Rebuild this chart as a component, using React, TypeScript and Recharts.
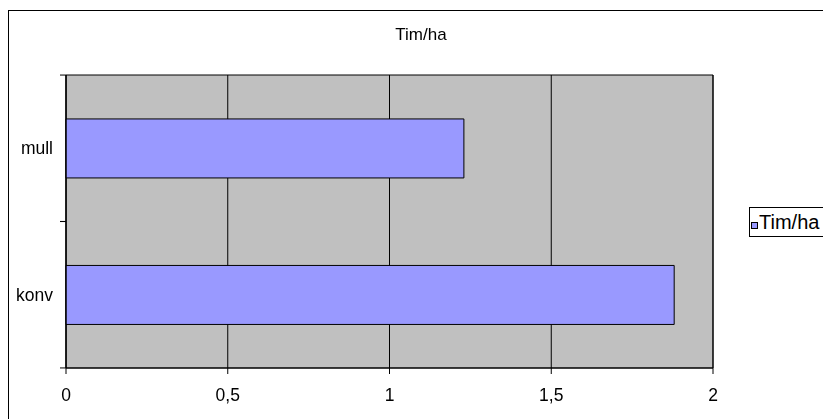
import React from 'react';
import {
  BarChart,
  Bar,
  XAxis,
  YAxis,
  CartesianGrid,
  Legend,
  ReferenceArea,
} from 'recharts';

const categories = ['mull', 'konv'];
const timPerHa = [1.23, 1.88];
const xTicks = [0, 0.5, 1, 1.5, 2];
const seriesName = 'Tim/ha';
const title = 'Tim/ha';

const data = categories.map((c, i) => ({ name: c, value: timPerHa[i] }));

const FONT = '"Liberation Sans", Arial, sans-serif';
const FS = 17.5;
const BAND_HALF = 73.2;

const YTick = (props: any) => {
  const { x, y, payload } = props;
  return (
    <g>
      <text
        x={x}
        y={y}
        dy="0.355em"
        textAnchor="end"
        fontSize={FS}
        fontFamily={FONT}
        fill="#000"
      >
        {payload.value}
      </text>
      <line x1={x + 7} x2={x + 13} y1={y - BAND_HALF} y2={y - BAND_HALF} stroke="#000" />
      <line x1={x + 7} x2={x + 13} y1={y + BAND_HALF} y2={y + BAND_HALF} stroke="#000" />
    </g>
  );
};

const LegendBox = (props: any) => {
  const { payload } = props;
  return (
    <div
      style={{
        border: '1px solid #000',
        height: 28,
        width: 120,
        boxSizing: 'content-box',
        display: 'flex',
        alignItems: 'center',
        paddingLeft: 1,
        background: '#fff',
        fontFamily: FONT,
        fontSize: 20,
        whiteSpace: 'nowrap',
      }}
    >
      {(payload || []).map((p: any, i: number) => (
        <span key={i} style={{ display: 'flex', alignItems: 'center' }}>
          <span
            style={{
              display: 'inline-block',
              width: 5,
              height: 5,
              background: '#9999FF',
              border: '1px solid #000',
              marginRight: 1,
              marginTop: 6,
            }}
          />
          <span style={{ lineHeight: '22px' }}>{p.value}</span>
        </span>
      ))}
    </div>
  );
};

const CHART_W = 807;
const PLOT_LEFT = 58;
const PLOT_W = 647;

export default function App() {
  return (
    <div
      style={{
        position: 'relative',
        width: CHART_W,
        height: 403,
        fontFamily: FONT,
      }}
    >
      <div
        style={{
          position: 'fixed',
          left: 8,
          top: 10,
          width: 1000,
          height: 1000,
          border: '1px solid #000',
          boxSizing: 'border-box',
          pointerEvents: 'none',
        }}
      />
      <div
        style={{
          position: 'absolute',
          left: 0,
          width: 826,
          top: 17,
          textAlign: 'center',
          fontSize: 17,
          fontFamily: FONT,
          color: '#000',
          lineHeight: '20px',
        }}
      >
        {title}
      </div>
      <BarChart
        width={CHART_W}
        height={403}
        data={data}
        layout="vertical"
        margin={{ top: 67, right: CHART_W - PLOT_LEFT - PLOT_W, left: 0, bottom: 13 }}
        barCategoryGap="30%"
      >
        <CartesianGrid
          horizontal={false}
          vertical={true}
          fill="#C0C0C0"
          fillOpacity={1}
          stroke="#000"
          strokeOpacity={1}
        />
        <XAxis
          type="number"
          domain={[0, 2]}
          ticks={xTicks}
          height={30}
          tickSize={6}
          tickMargin={15}
          stroke="#000"
          tick={{ fill: '#000', fontSize: FS, fontFamily: FONT }}
          tickFormatter={(v: number) => String(v).replace('.', ',')}
          axisLine={{ stroke: '#000' }}
          tickLine={{ stroke: '#000' }}
          interval={0}
        />
        <YAxis
          type="category"
          dataKey="name"
          width={PLOT_LEFT}
          tickSize={6}
          tickMargin={7}
          tickLine={false}
          axisLine={{ stroke: '#000' }}
          tick={<YTick />}
          interval={0}
        />
        <ReferenceArea
          x1={0}
          x2={2}
          fill="none"
          stroke="#000"
          strokeWidth={1}
          ifOverflow="visible"
        />
        <Bar
          dataKey="value"
          name={seriesName}
          fill="#9999FF"
          stroke="#000"
          strokeWidth={1}
          isAnimationActive={false}
        />
        <Legend
          layout="horizontal"
          verticalAlign="middle"
          align="center"
          content={<LegendBox />}
          wrapperStyle={{ position: 'fixed', left: 749, top: 207, width: 130 }}
        />
      </BarChart>
    </div>
  );
}
